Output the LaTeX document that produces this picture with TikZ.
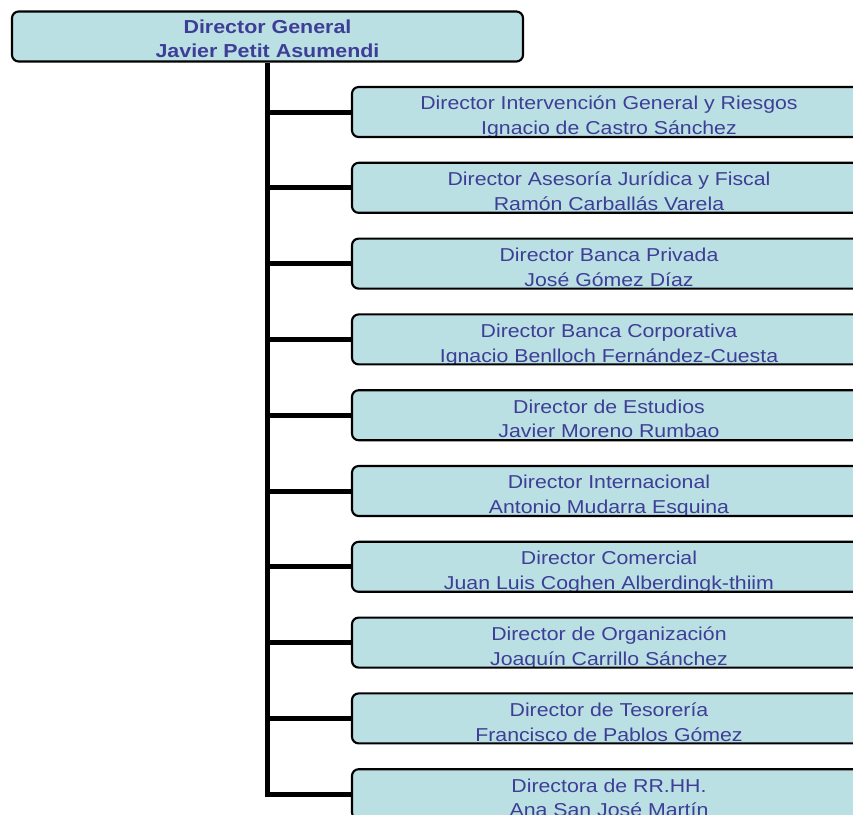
\documentclass[tikz,border=0pt]{standalone}
\usepackage{fontspec}
\setmainfont{Liberation Sans}[FakeStretch=1.14]
\definecolor{cajafondo}{RGB}{187,224,228}
\definecolor{cajatexto}{RGB}{62,62,150}
\tikzset{
    caja/.style={draw, line width=1.6pt, rounded corners=5pt, fill=cajafondo,
        minimum height=37.5pt, inner sep=0pt},
    rama/.style={line width=3.75pt},
    linea/.style={text=cajatexto, anchor=base, inner sep=0pt,
        font=\fontsize{14}{16}\selectfont},
}
\begin{document}
\begin{tikzpicture}[x=0.75pt, y=-0.75pt]
    \useasboundingbox (0,0) rectangle (853,814);
    \clip (0,0) rectangle (853,814);
    % Director general
    \node[caja, minimum width=383.25pt, path picture={
        \node[linea, font=\bfseries\fontsize{14.1}{16}\selectfont] (dg-1)
            at ([yshift=-16.8pt]path picture bounding box.north) {Director General};
        \node[linea, font=\bfseries\fontsize{14.1}{16}\selectfont] (dg-2)
            at ([yshift=-34.8pt]path picture bounding box.north) {Javier Petit Asumendi};
    }] (dg) at (267.5, 36.5) {};
    % Directores
    \foreach \puesto/\titular [count=\i from 0] in {
        Director Intervención General y Riesgos/Ignacio de Castro Sánchez,
        Director Asesoría Jurídica y Fiscal/Ramón Carballás Varela,
        Director Banca Privada/José Gómez Díaz,
        Director Banca Corporativa/Ignacio Benlloch Fernández-Cuesta,
        Director de Estudios/Javier Moreno Rumbao,
        Director Internacional/Antonio Mudarra Esquina,
        Director Comercial/Juan Luis Coghen Alberdingk-thiim,
        Director de Organización/Joaquín Carrillo Sánchez,
        Director de Tesorería/Francisco de Pablos Gómez,
        Directora de RR.HH./Ana San José Martín} {
        \node[caja, minimum width=385.5pt, path picture={
            \node[linea] (d\i-1) at ([yshift=-17.1pt]path picture bounding box.north) {\puesto};
            \node[linea] (d\i-2) at ([yshift=-35.8pt]path picture bounding box.north) {\titular};
        }] (d\i) at (609, 112+75.8*\i) {};
    }
    % Tronco y ramas
    \draw[rama] (dg.south) |- (d9.west);
    \foreach \i in {0,...,8} {
        \draw[rama] (dg.south |- d\i.west) -- (d\i.west);
    }
\end{tikzpicture}
\end{document}
